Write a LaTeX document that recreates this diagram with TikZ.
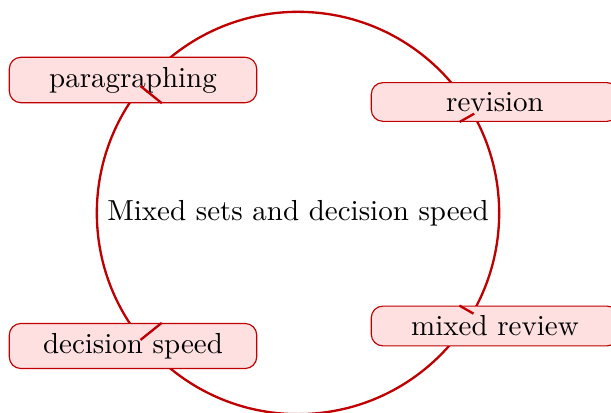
\documentclass[tikz,border=0pt]{standalone}
\begin{document}
\begin{tikzpicture}[x=0.345pt,y=-0.345pt]
\definecolor{dred}{RGB}{192,0,0}
\definecolor{lpink}{RGB}{255,224,225}
\tikzset{
  hub/.style={circle,draw=dred,thick,inner sep=3.333pt},
  sat/.style={draw=dred,fill=lpink,rounded corners=4pt,minimum width=3cm,inner sep=3.333pt},
  link/.style={draw=dred,thick}
}
\useasboundingbox (0,0) rectangle (611,413);
\node[hub] (c) at (298,213) {Mixed sets and decision speed};
\node[sat] (p) at (133,80) {paragraphing};
\node[sat] (r) at (495,102) {revision};
\node[sat] (m) at (495,326) {mixed review};
\node[sat] (d) at (133,346) {decision speed};
\draw[link] (c) -- (p);
\draw[link] (c) -- (r);
\draw[link] (c) -- (m);
\draw[link] (c) -- (d);
\end{tikzpicture}
\end{document}
